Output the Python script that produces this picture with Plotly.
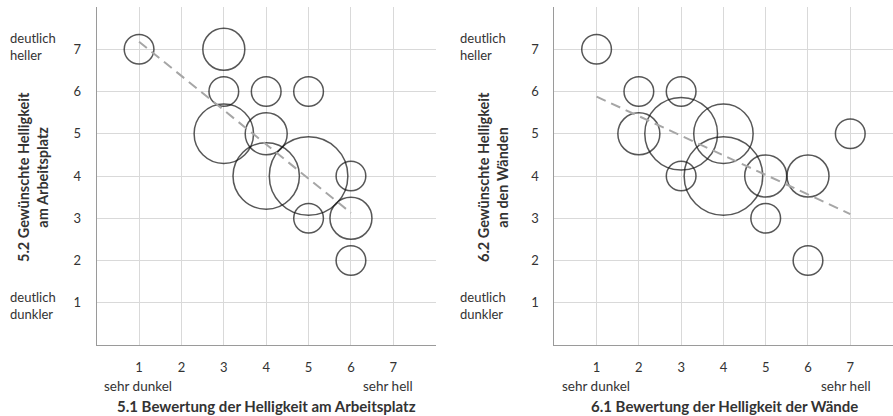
import numpy as np
import plotly.graph_objects as go

# ---------- data ----------
# Left chart: 5.1 (x) vs 5.2 (y), bubble size = number of answers
left_x = [1, 3, 3, 4, 5, 3, 4, 4, 5, 6, 5, 6, 6]
left_y = [7, 7, 6, 6, 6, 5, 5, 4, 4, 4, 3, 3, 2]
left_n = [1, 2, 1, 1, 1, 4, 2, 5, 7, 1, 1, 2, 1]

# Right chart: 6.1 (x) vs 6.2 (y)
right_x = [1, 2, 3, 2, 3, 4, 7, 3, 4, 5, 6, 5, 6]
right_y = [7, 6, 6, 5, 5, 5, 5, 4, 4, 4, 4, 3, 2]
right_n = [1, 1, 1, 2, 6, 4, 1, 1, 7, 2, 2, 1, 1]

tick_vals = [1, 2, 3, 4, 5, 6, 7]
tick_text = ["1", "2", "3", "4", "5", "6", "7"]

left_xtitle = "5.1 Bewertung der Helligkeit am Arbeitsplatz"
left_ytitle = "5.2 Gewünschte Helligkeit<br>am Arbeitsplatz"
right_xtitle = "6.1 Bewertung der Helligkeit der Wände"
right_ytitle = "6.2 Gewünschte Helligkeit<br>an den Wänden"

# ---------- layout helpers ----------
W, H = 893, 416
FONT = "Lato"
TXT = "#333333"


def px(x):
    return x / W


def py(y):
    return 1 - y / H


fig = go.Figure()


def add_panel(xs, ys, ns, xa, ya):
    xa_ref = "x" if xa == 1 else f"x{xa}"
    ya_ref = "y" if ya == 1 else f"y{ya}"
    fig.add_trace(go.Scatter(
        x=xs, y=ys, mode="markers",
        marker=dict(size=ns, sizemode="area", sizeref=1 / 441,
                    color="rgba(0,0,0,0)",
                    line=dict(color="#111111", width=1.5)),
        xaxis=xa_ref, yaxis=ya_ref, showlegend=False, hoverinfo="skip"))
    # weighted linear trendline
    slope, icpt = np.polyfit(np.array(xs, float), np.array(ys, float), 1,
                             w=np.sqrt(np.array(ns, float)))
    tx = [min(xs), max(xs)]
    ty = [slope * v + icpt for v in tx]
    fig.add_trace(go.Scatter(
        x=tx, y=ty, mode="lines",
        line=dict(color="#a6a6a6", width=2, dash="10px,6px"),
        xaxis=xa_ref, yaxis=ya_ref, showlegend=False, hoverinfo="skip"))


add_panel(left_x, left_y, left_n, 1, 1)
add_panel(right_x, right_y, right_n, 2, 2)

axis_common = dict(
    range=[0, 8], tickvals=tick_vals, ticktext=tick_text,
    showgrid=True, gridcolor="#d9d9d9", gridwidth=1,
    zeroline=False, showline=True, linecolor="#9a9a9a", linewidth=1,
    ticks="", tickfont=dict(family=FONT, size=13, color=TXT),
    fixedrange=True,
)

dom_y = [py(345), py(7)]
fig.update_layout(
    width=W, height=H,
    margin=dict(l=0, r=0, t=0, b=0),
    paper_bgcolor="white", plot_bgcolor="white",
    font=dict(family=FONT, size=13, color=TXT),
    xaxis=dict(domain=[px(96.7), px(435.7)], anchor="y",
               ticklabelstandoff=10, **axis_common),
    yaxis=dict(domain=dom_y, anchor="x", ticklabelstandoff=12, **axis_common),
    xaxis2=dict(domain=[px(554.3), 0.9995], anchor="y2",
                ticklabelstandoff=10, **axis_common),
    yaxis2=dict(domain=dom_y, anchor="x2", ticklabelstandoff=12, **axis_common),
)

annots = []


def note(text, x, y, xanchor="center", size=13, bold=False, angle=0, align="center"):
    annots.append(dict(
        text=f"<b>{text}</b>" if bold else text,
        x=px(x), y=py(y), xref="paper", yref="paper",
        xanchor=xanchor, yanchor="middle", showarrow=False,
        textangle=angle, align=align,
        font=dict(family=FONT, size=size, color=TXT)))


for off, ycx, ytitle, xtitle, sd, sh in [
    (0, 33, left_ytitle, left_xtitle, 138.3, 387.8),
    (450, 493, right_ytitle, right_xtitle, 596, 846),
]:
    note("deutlich<br>heller", off + 7.5, 46, xanchor="left", align="left")
    note("deutlich<br>dunkler", off + 7.5, 305, xanchor="left", align="left")
    note(ytitle, ycx, 177, bold=True, angle=-90, size=14.5)
    note("sehr dunkel", sd, 386, size=13.5)
    note("sehr hell", sh, 386, size=13.5)

note(left_xtitle, 266, 406, bold=True, size=15)
note(right_xtitle, 724, 406, bold=True, size=15)

fig.update_layout(annotations=annots)
fig.write_html("out.html",
               config={"displayModeBar": False},
               post_script="document.body.style.margin='0px';"
                           "document.body.style.overflow='hidden';")
